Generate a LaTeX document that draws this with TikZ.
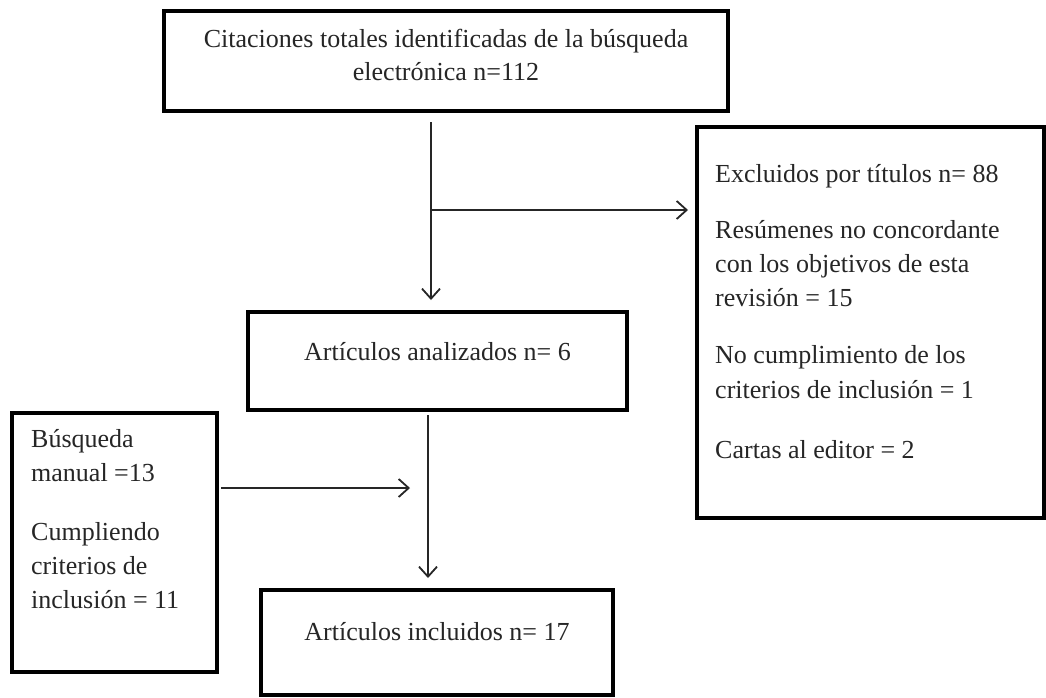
\documentclass[tikz,border=0pt]{standalone}
\usepackage{fontspec}
\setmainfont{Liberation Serif}
\usetikzlibrary{arrows.meta}
\begin{document}
\begin{tikzpicture}[x=1pt,y=-1pt,
  box/.style={draw=black, line width=3.2pt, rectangle, inner sep=0pt},
  txt/.style={font=\fontsize{26}{33}\selectfont, inner sep=0pt, text=black!85},
  conn/.style={draw=black!85, line width=1.8pt, -{Straight Barb[length=10pt,width=18pt,line width=1.8pt]}}
]
\useasboundingbox[fill=white] (0,0) rectangle (1046,697);
% boxes
\node[box, minimum width=564pt, minimum height=100pt] (top) at (446,61) {};
\node[box, minimum width=347pt, minimum height=391pt] (right) at (870.5,322.5) {};
\node[box, minimum width=379pt, minimum height=98pt] (mid) at (437.5,361) {};
\node[box, minimum width=205pt, minimum height=259pt] (left) at (114.5,542.5) {};
\node[box, minimum width=352pt, minimum height=105pt] (bot) at (437,642.5) {};
% texts
\node[txt, anchor=base] (t1) at (446,47) {Citaciones totales identificadas de la búsqueda};
\node[txt, anchor=base] (t2) at (446,80) {electrónica n=112};
\node[txt, anchor=base] (m1) at (437.5,360) {Artículos analizados n= 6};
\node[txt, anchor=base] (b1) at (437,640) {Artículos incluidos n= 17};
\node[txt, anchor=base west] (r1) at (715,182) {Excluidos por títulos n= 88};
\node[txt, anchor=base west] (r2) at (715,238) {Resúmenes no concordante};
\node[txt, anchor=base west] (r3) at (715,272) {con los objetivos de esta};
\node[txt, anchor=base west] (r4) at (715,306) {revisión = 15};
\node[txt, anchor=base west] (r5) at (715,363) {No cumplimiento de los};
\node[txt, anchor=base west] (r6) at (715,398) {criterios de inclusión = 1};
\node[txt, anchor=base west] (r7) at (715,458) {Cartas al editor = 2};
\node[txt, anchor=base west] (l1) at (31,447) {Búsqueda};
\node[txt, anchor=base west] (l2) at (31,481) {manual =13};
\node[txt, anchor=base west] (l3) at (31,540) {Cumpliendo};
\node[txt, anchor=base west] (l4) at (31,574) {criterios de};
\node[txt, anchor=base west] (l5) at (31,608) {inclusión = 11};
% connector points
\coordinate (a1s) at (431,122);
\coordinate (a1e) at (431,300);
\coordinate (a2s) at (431,210);
\coordinate (a2e) at (688,210);
\coordinate (a3s) at (428,415);
\coordinate (a3e) at (428,578);
\coordinate (a4s) at (221,488);
\coordinate (a4e) at (410,488);
\draw[conn] (a1s) -- (a1e);
\draw[conn] (a2s) -- (a2e);
\draw[conn] (a3s) -- (a3e);
\draw[conn] (a4s) -- (a4e);
\end{tikzpicture}
\end{document}
